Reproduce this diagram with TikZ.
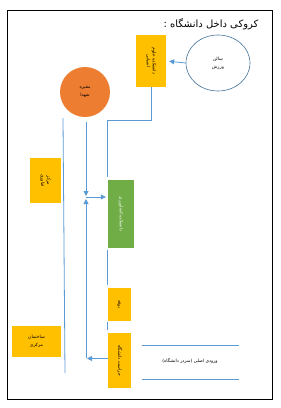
\documentclass[tikz,border=0pt]{standalone}
\usepackage{fontspec}
\newfontfamily\farsi[Script=Arabic]{DejaVu Sans}
\TeXXeTstate=1
\usetikzlibrary{arrows.meta,shapes.geometric}
\definecolor{boxyellow}{HTML}{FFC000}
\definecolor{tombred}{HTML}{ED7D31}
\definecolor{facgreen}{HTML}{70AD47}
\definecolor{roadblue}{HTML}{5B9BD5}
\definecolor{hallblue}{HTML}{41719C}
\newcommand{\fa}[1]{\beginR #1\endR}
\newcommand{\vlabel}[1]{\rotatebox{-90}{\begin{tabular}{@{}c@{}}#1\end{tabular}}}

\begin{document}
\begin{tikzpicture}[x=1pt,y=-1pt,
  place/.style={inner sep=0pt,align=center,font=\farsi\fontsize{4.5}{6}\selectfont},
  ybox/.style={place,fill=boxyellow},
  road/.style={draw=roadblue,line width=0.8pt},
  arr/.style={road,-{Triangle[width=5pt,length=5pt]}}]
\useasboundingbox (0,0) rectangle (281,408);
\draw[line width=0.8pt] (7,10) rectangle (272,399);
\node[anchor=east,font=\farsi\fontsize{10}{12}\selectfont] (title) at (262,24) {\fa{کروکی داخل دانشگاه :}};

% buildings
\node[place,draw=hallblue,line width=0.6pt,ellipse,minimum width=64,minimum height=56] (hall) at (218,63) {\fa{سالن}\\[2pt]\fa{ورزش}};
\node[ybox,minimum width=30,minimum height=52] (faculty) at (151,61) {\vlabel{\fa{دانشکده علوم}\\\fa{انسانی}}};
\node[place,circle,fill=tombred,minimum size=50] (tomb) at (85,92) {\fa{مقبره}\\[2pt]\fa{شهدا}};
\node[ybox,minimum width=31,minimum height=45] (center) at (45.5,180.5) {\vlabel{\fa{مرکز}\\\fa{فناوری}}};
\node[place,fill=facgreen,text=white,minimum width=26,minimum height=68] (green) at (121,214) {\vlabel{\fa{دانشکده کشاورزی}}};
\node[ybox,minimum width=23,minimum height=33] (snack) at (119.5,304.5) {\vlabel{\fa{بوفه}}};
\node[ybox,minimum width=23,minimum height=55] (guard) at (119.5,360.5) {\vlabel{\fa{حراست دانشگاه}}};
\node[ybox,minimum width=49,minimum height=31] (main) at (36.5,341.5) {\fa{ساختمان}\\[2pt]\fa{مرکزی}};
\node[place] (gatetext) at (190,361) {\fa{ورودی اصلی (سردر دانشگاه)}};

% roads
\coordinate (bend) at (107,120);
\coordinate (leftA) at (63,118);
\coordinate (leftB) at (65,373);
\coordinate (midA) at (86,122);
\coordinate (junc) at (86,197);
\coordinate (midB) at (86,358);
\coordinate (gateA) at (142,345);
\coordinate (gateB) at (239,345);
\coordinate (gateC) at (142,379);
\coordinate (gateD) at (239,379);

\draw[arr,shorten >=3pt] (hall.west) -- (faculty.east);
\draw[road] (faculty.south) |- (bend) -- ([yshift=3pt]green.north -| bend);
\draw[road] ([yshift=-2pt]green.south -| bend) -- ([yshift=3pt]snack.north -| bend);
\draw[road] ([yshift=-1pt]snack.south -| bend) -- ([yshift=3pt]guard.north -| bend);
\draw[road] (leftA) -- (leftB);
\draw[arr] (midA) -- ([yshift=1pt]junc);
\draw[arr] (midB) -- ([yshift=-2pt]junc);
\draw[arr,shorten >=2pt] (junc) -- (junc -| green.west);
\draw[arr,shorten >=1pt] ([yshift=2pt]guard.west) -- ([yshift=2pt]guard.west -| midB);
\draw[road] (gateA) -- (gateB);
\draw[road] (gateC) -- (gateD);
\end{tikzpicture}
\end{document}
